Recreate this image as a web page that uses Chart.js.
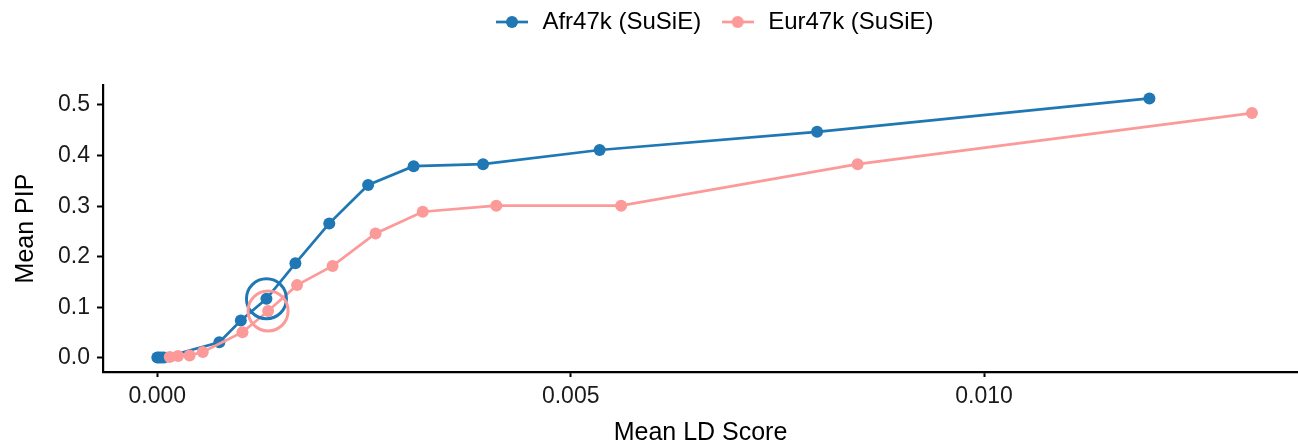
<!DOCTYPE html>
<html>
<head>
<meta charset="utf-8">
<script src="https://cdn.jsdelivr.net/npm/chart.js@4/dist/chart.umd.min.js"></script>
<style>
html,body{margin:0;padding:0;background:#fff;overflow:hidden;width:1298px;height:446px;}
#wrap{width:1298px;height:446px;position:relative;overflow:hidden;}
canvas{display:block;}
</style>
</head>
<body>
<div id="wrap"><canvas id="c" width="1298" height="446"></canvas></div>
<script>
// ---- data ----
const seriesNames = ['Afr47k (SuSiE)', 'Eur47k (SuSiE)'];
const afrLD  = [0.00000, 0.00002, 0.00005, 0.00008, 0.00075, 0.00101, 0.00132, 0.00167, 0.00208, 0.00255, 0.00310, 0.00394, 0.00535, 0.00798, 0.01200];
const afrPIP = [0.001, 0.001, 0.001, 0.001, 0.031, 0.074, 0.117, 0.187, 0.266, 0.342, 0.379, 0.383, 0.411, 0.447, 0.513];
const eurLD  = [0.00015, 0.00025, 0.00039, 0.00055, 0.00103, 0.00134, 0.00169, 0.00212, 0.00264, 0.00321, 0.00410, 0.00561, 0.00847, 0.01324];
const eurPIP = [0.002, 0.004, 0.005, 0.012, 0.051, 0.093, 0.144, 0.182, 0.246, 0.289, 0.301, 0.301, 0.383, 0.484];
// highlighted points (open circles)
const afrHighlight = {x: 0.00132, y: 0.117};
const eurHighlight = {x: 0.00134, y: 0.093};
const xTicks = [0.000, 0.005, 0.010];
const xTickLabels = ['0.000', '0.005', '0.010'];
const yTicks = [0.0, 0.1, 0.2, 0.3, 0.4, 0.5];
const yTickLabels = ['0.0', '0.1', '0.2', '0.3', '0.4', '0.5'];

const BLUE = '#1f77b4';
const PINK = '#fb9a99';
const FONT = "'Liberation Sans', Arial, Helvetica, sans-serif";

function legendIcon(color) {
  const cv = document.createElement('canvas');
  cv.width = 32; cv.height = 14;
  const g = cv.getContext('2d');
  g.strokeStyle = color; g.lineWidth = 2.7;
  g.beginPath(); g.moveTo(0, 7); g.lineTo(32, 7); g.stroke();
  g.fillStyle = color;
  g.beginPath(); g.arc(16, 7, 6, 0, Math.PI * 2); g.fill();
  return cv;
}
const icons = [legendIcon(BLUE), legendIcon(PINK)];

const toPts = (xs, ys) => xs.map((x, i) => ({x: x, y: ys[i]}));

const data = {
  datasets: [
    {label: seriesNames[0], data: toPts(afrLD, afrPIP), borderColor: BLUE, backgroundColor: BLUE,
     pointBackgroundColor: BLUE, pointBorderWidth: 0, pointRadius: 6, borderWidth: 2.7, showLine: true, order: 2},
    {label: seriesNames[1], data: toPts(eurLD, eurPIP), borderColor: PINK, backgroundColor: PINK,
     pointBackgroundColor: PINK, pointBorderWidth: 0, pointRadius: 6, borderWidth: 2.7, showLine: true, order: 1},
    {label: 'hlA', data: [afrHighlight], borderColor: BLUE, pointBorderColor: BLUE, pointBackgroundColor: 'rgba(0,0,0,0)',
     pointRadius: 20, pointBorderWidth: 3, showLine: false, order: 0.5},
    {label: 'hlE', data: [eurHighlight], borderColor: PINK, pointBorderColor: PINK, pointBackgroundColor: 'rgba(0,0,0,0)',
     pointRadius: 20, pointBorderWidth: 3, showLine: false, order: 0}
  ]
};

// centre the legend over the panel like ggplot does (small nudge)
const legendNudge = {
  id: 'legendNudge',
  afterLayout(chart) {
    if (chart.legend) { chart.legend.left += 13; chart.legend.right += 13; }
  }
};

new Chart(document.getElementById('c'), {
  type: 'scatter',
  data: data,
  plugins: [legendNudge],
  options: {
    responsive: false,
    animation: false,
    layout: {autoPadding: false, padding: {top: -8, left: 0, right: 0, bottom: 0}},
    plugins: {
      tooltip: {enabled: false},
      title: {display: true, text: ' ', position: 'top', weight: 500, font: {size: 10}, padding: {top: 0, bottom: 29}},
      legend: {
        position: 'top',
        fullSize: false,
        labels: {
          usePointStyle: true,
          pointStyleWidth: 37,
          padding: 18,
          color: '#000',
          font: {family: FONT, size: 24},
          filter: item => item.datasetIndex < 2,
          sort: (a, b) => a.datasetIndex - b.datasetIndex,
          generateLabels: chart => {
            const items = Chart.defaults.plugins.legend.labels.generateLabels(chart);
            items.forEach(it => { if (it.datasetIndex < 2) it.pointStyle = icons[it.datasetIndex]; });
            return items;
          }
        }
      }
    },
    scales: {
      x: {
        type: 'linear',
        min: -0.000657,
        max: 0.013797,
        afterBuildTicks: s => { s.ticks = xTicks.map(v => ({value: v})); },
        afterFit: s => { s.height = 74; },
        ticks: {
          color: '#1a1a1a', font: {family: FONT, size: 23}, padding: 6, maxRotation: 0,
          callback: (v) => { const i = xTicks.findIndex(t => Math.abs(t - v) < 1e-9); return i >= 0 ? xTickLabels[i] : ''; }
        },
        grid: {drawOnChartArea: false, drawTicks: true, tickLength: 5, color: '#000', tickWidth: 2},
        border: {display: true, color: '#000', width: 2.2},
        title: {display: true, text: 'Mean LD Score', color: '#000', font: {family: FONT, size: 25, lineHeight: 1.05}, padding: {top: 0, bottom: 0}}
      },
      y: {
        type: 'linear',
        min: -0.0277,
        max: 0.5395,
        afterBuildTicks: s => { s.ticks = yTicks.map(v => ({value: v})); },
        afterFit: s => { s.width = 103; },
        ticks: {
          color: '#1a1a1a', font: {family: FONT, size: 23}, padding: 7,
          callback: (v) => { const i = yTicks.findIndex(t => Math.abs(t - v) < 1e-9); return i >= 0 ? yTickLabels[i] : ''; }
        },
        grid: {drawOnChartArea: false, drawTicks: true, tickLength: 6, color: '#000', tickWidth: 2},
        border: {display: true, color: '#000', width: 2.2},
        title: {display: true, text: 'Mean PIP', color: '#000', font: {family: FONT, size: 25}, padding: {top: 11, bottom: 0}}
      }
    }
  }
});
</script>
</body>
</html>
